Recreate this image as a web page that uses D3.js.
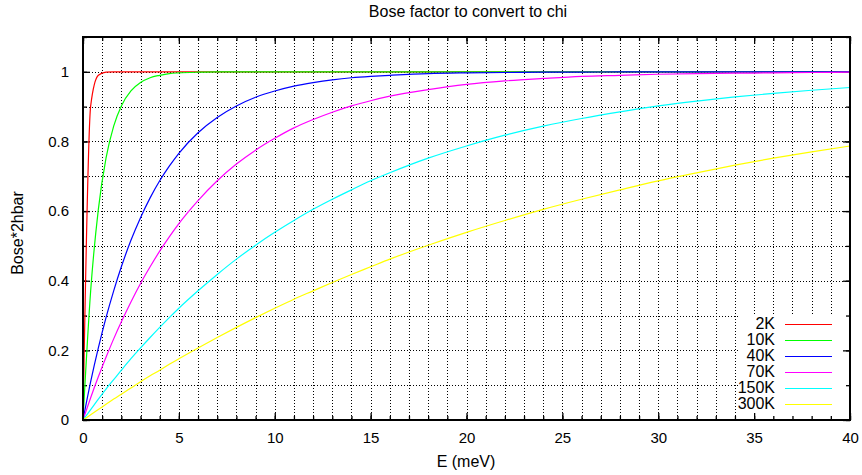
<!DOCTYPE html>
<html><head><meta charset="utf-8">
<script src="https://cdn.jsdelivr.net/npm/d3@7"></script>
<style>body{margin:0;background:#fff;} svg{display:block;} text{font-family:"Liberation Sans",Arial,sans-serif;fill:#000;}</style>
</head><body><svg id="c" width="862" height="475"></svg>
<script>
const title = "Bose factor to convert to chi";
const xLabel = "E (meV)";
const yLabel = "Bose*2hbar";
const xTicks = [0,5,10,15,20,25,30,35,40];
const yTicks = [0,0.2,0.4,0.6,0.8,1];
const seriesNames = ["2K","10K","40K","70K","150K","300K"];
const seriesColors = ["#ff0000","#00ff00","#0000ff","#ff00ff","#00ffff","#ffff00"];
const energy = [0,0.4,0.8,1.2,1.6,2,2.5,3,3.5,4,4.5,5,6,7,8,9,10,11,12,13,14,15,16,18,20,22,24,26,28,30,32,34,36,38,40];
const bose2K   = [0,0.902,0.990,0.999,1,1,1,1,1,1,1,1,1,1,1,1,1,1,1,1,1,1,1,1,1,1,1,1,1,1,1,1,1,1,1];
const bose10K  = [0,0.371,0.605,0.752,0.844,0.902,0.945,0.969,0.983,0.990,0.995,0.997,0.999,1,1,1,1,1,1,1,1,1,1,1,1,1,1,1,1,1,1,1,1,1,1];
const bose40K  = [0,0.110,0.207,0.294,0.371,0.440,0.516,0.581,0.638,0.687,0.729,0.766,0.825,0.869,0.902,0.927,0.945,0.959,0.969,0.977,0.983,0.987,0.990,0.995,0.997,0.998,0.999,0.999,1,1,1,1,1,1,1];
const bose70K  = [0,0.064,0.124,0.180,0.233,0.282,0.339,0.392,0.440,0.485,0.526,0.564,0.630,0.687,0.735,0.775,0.809,0.839,0.863,0.884,0.902,0.917,0.930,0.949,0.964,0.974,0.981,0.987,0.990,0.993,0.995,0.996,0.997,0.998,0.999];
const bose150K = [0,0.030,0.060,0.089,0.116,0.143,0.176,0.207,0.237,0.266,0.294,0.321,0.371,0.418,0.462,0.502,0.539,0.573,0.605,0.634,0.661,0.687,0.710,0.752,0.787,0.818,0.844,0.866,0.885,0.902,0.916,0.928,0.938,0.947,0.955];
const bose300K = [0,0.015,0.030,0.045,0.060,0.074,0.092,0.110,0.127,0.143,0.160,0.176,0.207,0.237,0.266,0.294,0.321,0.347,0.371,0.395,0.418,0.440,0.462,0.502,0.539,0.573,0.605,0.634,0.661,0.687,0.710,0.732,0.752,0.770,0.787];
const seriesValues = [bose2K,bose10K,bose40K,bose70K,bose150K,bose300K];

const L=83, R=850, T=37, B=420;
const svg = d3.select("#c");
const x = d3.scaleLinear().domain([0,40]).range([L,R]);
const y = d3.scaleLinear().domain([0,1.1]).range([B,T]);

// grid
const gx = d3.range(1,40);
const gy = d3.range(1,11).map(d=>d/10);
svg.append("g").selectAll("line").data(gx).join("line")
  .attr("x1",d=>Math.round(x(d))+0.5).attr("x2",d=>Math.round(x(d))+0.5).attr("y1",T).attr("y2",B)
  .attr("stroke","#000").attr("stroke-width",1).attr("stroke-dasharray","1,2");
svg.append("g").selectAll("line").data(gy).join("line")
  .attr("y1",d=>Math.round(y(d))+0.5).attr("y2",d=>Math.round(y(d))+0.5).attr("x1",L).attr("x2",R)
  .attr("stroke","#000").attr("stroke-width",1).attr("stroke-dasharray","1,2");

// opaque key box
svg.append("rect").attr("x",738).attr("y",315).attr("width",R-738).attr("height",B-315).attr("fill","#fff");

// axes ticks
const minorX = d3.range(0,41), minorY = d3.range(0,12).map(d=>d/10);
function axisG(axis, tr){ return svg.append("g").attr("transform",tr).call(axis); }
const fmtY = d=> d===0?"0":(d===1?"1":d3.format(".1f")(d));
axisG(d3.axisBottom(x).tickValues(minorX).tickSize(-4).tickFormat(""), `translate(0,${B})`);
axisG(d3.axisTop(x).tickValues(minorX).tickSize(-4).tickFormat(""), `translate(0,${T})`);
axisG(d3.axisLeft(y).tickValues(minorY).tickSize(-4).tickFormat(""), `translate(${L},0)`);
axisG(d3.axisRight(y).tickValues(minorY).tickSize(-4).tickFormat(""), `translate(${R},0)`);
axisG(d3.axisBottom(x).tickValues(xTicks).tickSize(-7).tickPadding(12).tickFormat(d3.format("d")), `translate(0,${B})`);
axisG(d3.axisTop(x).tickValues(xTicks).tickSize(-7).tickFormat(""), `translate(0,${T})`);
axisG(d3.axisLeft(y).tickValues(yTicks).tickSize(-7).tickPadding(14).tickFormat(fmtY), `translate(${L},0)`);
axisG(d3.axisRight(y).tickValues(yTicks).tickSize(-7).tickFormat(""), `translate(${R},0)`);
svg.selectAll(".domain").remove();
svg.selectAll(".tick line").attr("stroke","#000").attr("stroke-width",1.3);
svg.selectAll(".tick text").attr("font-size",15).attr("font-family","Liberation Sans, Arial, sans-serif").attr("fill","#000");

// curves
svg.append("clipPath").attr("id","cp").append("rect").attr("x",L).attr("y",T).attr("width",R-L).attr("height",B-T);
const line = d3.line().x((d,i)=>x(energy[i])).y(d=>y(d)).curve(d3.curveMonotoneX);
seriesValues.forEach((vals,k)=>{
  svg.append("path").datum(vals).attr("d",line).attr("fill","none")
    .attr("stroke",seriesColors[k]).attr("stroke-width",1.2).attr("clip-path","url(#cp)");
});

// frame
svg.append("rect").attr("x",L).attr("y",T).attr("width",R-L).attr("height",B-T)
  .attr("fill","none").attr("stroke","#000").attr("stroke-width",2);

// legend
const lg = svg.append("g");
seriesNames.forEach((n,k)=>{
  const yy = 324 + k*16;
  lg.append("text").attr("x",775).attr("y",yy+5).attr("text-anchor","end").attr("font-size",16).text(n);
  lg.append("line").attr("x1",785).attr("x2",832).attr("y1",yy+0.5).attr("y2",yy+0.5)
    .attr("stroke",seriesColors[k]).attr("stroke-width",1.2);
});

// labels
svg.append("text").attr("x",468).attr("y",17).attr("text-anchor","middle").attr("font-size",16).text(title);
svg.append("text").attr("x",466).attr("y",467).attr("text-anchor","middle").attr("font-size",16).text(xLabel);
svg.append("text").attr("transform",`translate(23,233) rotate(-90)`).attr("text-anchor","middle").attr("font-size",16).text(yLabel);
</script></body></html>
